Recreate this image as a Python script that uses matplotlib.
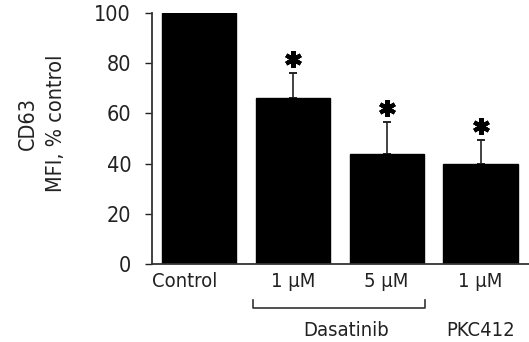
import matplotlib
matplotlib.use("Agg")
import matplotlib.pyplot as plt
import matplotlib.transforms as mtransforms
import numpy as np

plt.rcParams["font.family"] = ["DejaVu Sans"]
plt.rcParams["font.stretch"] = "condensed"

labels = ["Control", "1 \u00b5M", "5 \u00b5M", "1 \u00b5M"]
values = [100, 66, 44, 40]
errors = [0, 10, 12.6, 9.4]
significant = [False, True, True, True]
groups = ["Dasatinib", "PKC412"]

x = np.arange(len(values))

fig = plt.figure(figsize=(5.29, 3.42), dpi=100)
ax = fig.add_axes([152 / 529, 78 / 342, 1 - 152 / 529, 251 / 342])

ax.bar(x, values, width=0.79, color="black", edgecolor="black", zorder=2)
err_x = x[1:]
err_y = np.array(values[1:])
ax.errorbar(err_x, err_y, yerr=[np.zeros(len(err_x)), errors[1:]], fmt="none",
            ecolor="#222222", elinewidth=1.2, capsize=3, capthick=1.4, zorder=1)

# asterisks just above the error caps
star_offset = mtransforms.ScaledTranslation(0, 14 / 100, fig.dpi_scale_trans)
tops = np.array(values) + np.array(errors)
sig = np.array(significant)
ax.plot(x[sig], tops[sig], linestyle="none", marker=(6, 2, 0), markersize=12,
        markeredgewidth=3.0, color="black", transform=ax.transData + star_offset,
        clip_on=False)

ax.set_xlim(-0.5, 3.516)
ax.set_ylim(0, 100)
ax.set_yticks([0, 20, 40, 60, 80, 100])
ax.tick_params(axis="y", length=5, width=1, pad=10, labelsize=15.5, colors="#222222")
ax.set_xticks(x)
ax.set_xticklabels(labels)
ax.tick_params(axis="x", length=0, pad=6, labelsize=14.5, colors="#222222")
# Control label sits a little left of its bar
shift = mtransforms.ScaledTranslation(-14 / 100, 0, fig.dpi_scale_trans)
ctl = ax.get_xticklabels()[0]
ctl.set_transform(ctl.get_transform() + shift)

for side in ["top", "right"]:
    ax.spines[side].set_visible(False)
for side in ["left", "bottom"]:
    ax.spines[side].set_color("#333333")
    ax.spines[side].set_linewidth(1.3)

# bracket under the Dasatinib doses
trans = mtransforms.blended_transform_factory(ax.transData, ax.transAxes)
bx0, bx1 = 0.574, 2.404
ax.plot([bx0, bx0, bx1, bx1], [-0.143, -0.175, -0.175, -0.143], color="#333333",
        linewidth=1.2, transform=trans, clip_on=False)
ax.text(1.57, -0.263, groups[0], transform=trans, ha="center", va="center",
        fontsize=14.5, color="#222222")
ax.text(3.0, -0.263, groups[1], transform=trans, ha="center", va="center",
        fontsize=14.5, color="#222222")

fig.text(42 / 529, 1 - 123 / 342, "CD63\nMFI, % control", rotation=90,
         ha="center", va="center", multialignment="center", linespacing=1.5,
         fontsize=15.5, color="#222222")

fig.savefig("out.png", dpi=100)
